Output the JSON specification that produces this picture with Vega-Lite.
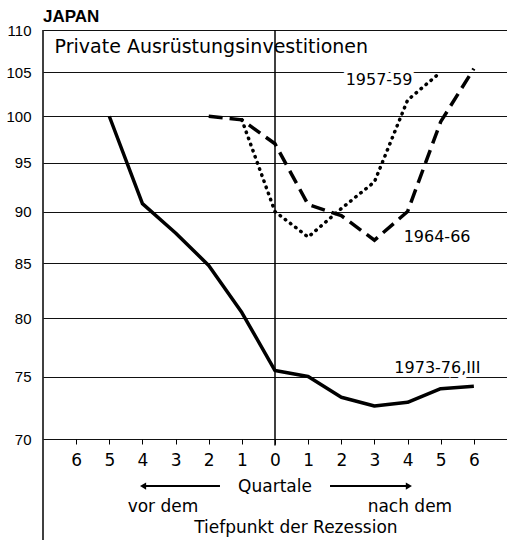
{
  "$schema": "https://vega.github.io/schema/vega-lite/v6.json",
  "autosize": "none",
  "width": 464,
  "height": 409,
  "padding": {"left": 43, "top": 30, "right": 0, "bottom": 101},
  "background": "white",
  "config": {
    "view": {"stroke": null},
    "axisX": {"title": null, "grid": false, "domain": false, "ticks": true, "tickSize": 5, "tickColor": "black", "tickWidth": 1, "tickCount": 30, "labelFont": "DejaVu Sans", "labelFontSize": 17, "labelColor": "black", "labelPadding": 8, "labelOverlap": false, "labelBound": false},
    "axisY": {"title": null, "grid": true, "gridColor": "#111", "gridWidth": 1, "domain": false, "ticks": false, "tickCount": 30, "labelPadding": 12, "labelFont": "Liberation Sans", "labelFontSize": 15, "labelColor": "black", "labelOverlap": false, "labelBound": false}
  },
  "datasets": {
    "series": [
      {"series": "1973-76,III", "q": -5, "value": 100},
      {"series": "1973-76,III", "q": -4, "value": 90.8},
      {"series": "1973-76,III", "q": -3, "value": 87.9},
      {"series": "1973-76,III", "q": -2, "value": 84.8},
      {"series": "1973-76,III", "q": -1, "value": 80.5},
      {"series": "1973-76,III", "q": 0, "value": 75.5},
      {"series": "1973-76,III", "q": 1, "value": 75.0},
      {"series": "1973-76,III", "q": 2, "value": 73.3},
      {"series": "1973-76,III", "q": 3, "value": 72.6},
      {"series": "1973-76,III", "q": 4, "value": 72.9},
      {"series": "1973-76,III", "q": 5, "value": 74.0},
      {"series": "1973-76,III", "q": 6, "value": 74.2},
      {"series": "1964-66", "q": -2, "value": 100},
      {"series": "1964-66", "q": -1, "value": 99.6},
      {"series": "1964-66", "q": 0, "value": 97.0},
      {"series": "1964-66", "q": 1, "value": 90.7},
      {"series": "1964-66", "q": 2, "value": 89.6},
      {"series": "1964-66", "q": 3, "value": 87.2},
      {"series": "1964-66", "q": 4, "value": 90.0},
      {"series": "1964-66", "q": 5, "value": 99.4},
      {"series": "1964-66", "q": 6, "value": 105.4},
      {"series": "1957-59", "q": -1, "value": 99.6},
      {"series": "1957-59", "q": 0, "value": 90.0},
      {"series": "1957-59", "q": 1, "value": 87.5},
      {"series": "1957-59", "q": 2, "value": 90.3},
      {"series": "1957-59", "q": 3, "value": 93.0},
      {"series": "1957-59", "q": 4, "value": 101.8},
      {"series": "1957-59", "q": 5, "value": 105.0}
    ],
    "one": [{}]
  },
  "layer": [
    {
      "data": {"name": "series"},
      "mark": {"type": "point", "opacity": 0},
      "encoding": {
        "x": {"field": "q", "type": "quantitative", "scale": {"domain": [-7, 7], "nice": false, "zero": false},
          "axis": {"values": [-6,-5,-4,-3,-2,-1,0,1,2,3,4,5,6], "tickCount": 30, "labelExpr": "'' + abs(datum.value)"}},
        "y": {"field": "value", "type": "quantitative", "scale": {"type": "log", "domain": [70, 110], "nice": false, "zero": false},
          "axis": {"values": [70,75,80,85,90,95,100,105,110], "tickCount": 30}}
      }
    },
    {
      "data": {"name": "one"},
      "mark": {"type": "rule", "color": "black", "strokeWidth": 1.5},
      "encoding": {"x": {"datum": 0}, "y": {"datum": 110}, "y2": {"datum": 69.5}}
    },
    {
      "data": {"name": "one"},
      "mark": {"type": "rule", "color": "black", "strokeWidth": 1.5},
      "encoding": {"x": {"datum": -7}, "y": {"datum": 110}, "y2": {"datum": 62.5}}
    },
    {
      "data": {"name": "series"},
      "transform": [{"filter": "datum.series === '1973-76,III'"}],
      "mark": {"type": "line", "color": "black", "strokeWidth": 3.5, "strokeJoin": "round"},
      "encoding": {"x": {"field": "q", "type": "quantitative"}, "y": {"field": "value", "type": "quantitative"}}
    },
    {
      "data": {"name": "series"},
      "transform": [{"filter": "datum.series === '1964-66'"}],
      "mark": {"type": "line", "color": "black", "strokeWidth": 3.5, "strokeDash": [14, 7]},
      "encoding": {"x": {"field": "q", "type": "quantitative"}, "y": {"field": "value", "type": "quantitative"}}
    },
    {
      "data": {"name": "series"},
      "transform": [{"filter": "datum.series === '1957-59'"}],
      "mark": {"type": "line", "color": "black", "strokeWidth": 3.5, "strokeDash": [0.5, 6], "strokeCap": "round"},
      "encoding": {"x": {"field": "q", "type": "quantitative"}, "y": {"field": "value", "type": "quantitative"}}
    },
    {
      "data": {"name": "one"},
      "mark": {"type": "text", "align": "left", "baseline": "middle", "font": "Liberation Sans", "fontSize": 17, "fontWeight": "bold", "color": "black"},
      "encoding": {"x": {"datum": -7}, "y": {"datum": 111.6}, "text": {"value": "JAPAN"}}
    },
    {
      "data": {"name": "one"},
      "mark": {"type": "text", "align": "left", "baseline": "middle", "font": "DejaVu Sans", "fontSize": 19, "color": "black"},
      "encoding": {"x": {"datum": -6.65}, "y": {"datum": 108}, "text": {"value": "Private Ausrüstungsinvestitionen"}}
    },
    {
      "data": {"values": [
        {"label": "1957-59", "lq": 3.14, "lv": 104.1},
        {"label": "1964-66", "lq": 4.89, "lv": 87.5},
        {"label": "1973-76,III", "lq": 4.9, "lv": 75.7}
      ]},
      "layer": [
        {"mark": {"type": "text", "align": "center", "baseline": "middle", "font": "DejaVu Sans", "fontSize": 16, "stroke": "white", "strokeWidth": 7, "fill": "white"},
         "encoding": {"x": {"field": "lq", "type": "quantitative"}, "y": {"field": "lv", "type": "quantitative"}, "text": {"field": "label"}}},
        {"mark": {"type": "text", "align": "center", "baseline": "middle", "font": "DejaVu Sans", "fontSize": 16, "color": "black"},
         "encoding": {"x": {"field": "lq", "type": "quantitative"}, "y": {"field": "lv", "type": "quantitative"}, "text": {"field": "label"}}}
      ]
    },
    {
      "data": {"values": [
        {"t": "Quartale", "tq": 0, "tv": 66.4},
        {"t": "vor dem", "tq": -3.38, "tv": 64.9},
        {"t": "nach dem", "tq": 4.07, "tv": 64.9},
        {"t": "Tiefpunkt der Rezession", "tq": 0.63, "tv": 63.45}
      ]},
      "mark": {"type": "text", "align": "center", "baseline": "middle", "font": "DejaVu Sans", "fontSize": 17, "color": "black"},
      "encoding": {"x": {"field": "tq", "type": "quantitative"}, "y": {"field": "tv", "type": "quantitative"}, "text": {"field": "t"}}
    },
    {
      "data": {"values": [
        {"a": -4.0, "b": -1.66, "v": 66.45},
        {"a": 1.66, "b": 4.05, "v": 66.45}
      ]},
      "mark": {"type": "rule", "color": "black", "strokeWidth": 2},
      "encoding": {"x": {"field": "a", "type": "quantitative"}, "x2": {"field": "b"}, "y": {"field": "v", "type": "quantitative"}}
    },
    {
      "data": {"values": [
        {"a": -3.98, "v": 66.45, "dir": "left"},
        {"a": 4.04, "v": 66.45, "dir": "right"}
      ]},
      "mark": {"type": "point", "filled": true, "color": "black", "size": 50, "opacity": 1},
      "encoding": {"x": {"field": "a", "type": "quantitative"}, "y": {"field": "v", "type": "quantitative"},
        "shape": {"field": "dir", "type": "nominal", "scale": {"domain": ["left", "right"], "range": ["triangle-left", "triangle-right"]}, "legend": null}}
    }
  ]
}
